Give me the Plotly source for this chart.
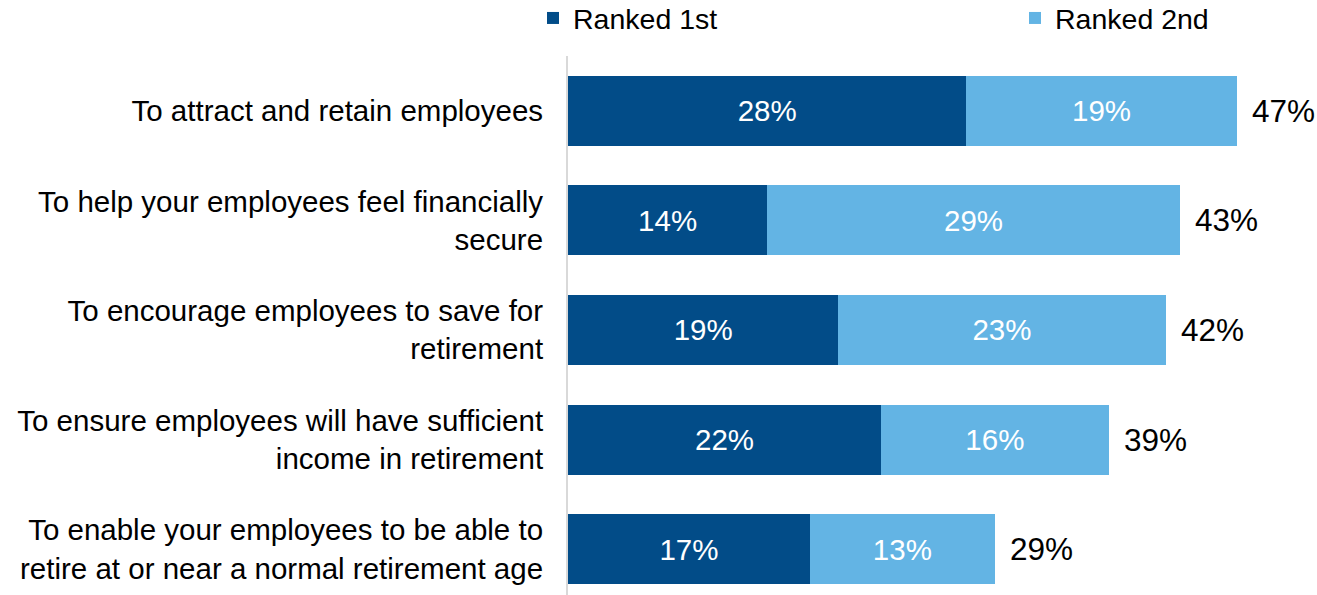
import plotly.graph_objects as go

# Survey reasons, top to bottom
categories = [
    "To attract and retain employees",
    "To help your employees feel financially<br>secure",
    "To encourage employees to save for<br>retirement",
    "To ensure employees will have sufficient<br>income in retirement",
    "To enable your employees to be able to<br>retire at or near a normal retirement age",
]
ranked_1st = [28, 14, 19, 22, 17]
ranked_2nd = [19, 29, 23, 16, 13]
total_labels = ["47%", "43%", "42%", "39%", "29%"]

DARK = "#024C88"
LIGHT = "#63B4E4"
FONT = "Liberation Sans, Arial, sans-serif"
FS = 29.5
FS_TOTAL = 31.5
FS_LEGEND = 28.5

fig = go.Figure()
fig.add_trace(go.Bar(
    y=categories, x=ranked_1st, orientation="h", name="Ranked 1st",
    marker=dict(color=DARK, line=dict(width=0)), legend="legend",
    text=[f"{v}%" for v in ranked_1st], textposition="inside",
    insidetextanchor="middle", textfont=dict(color="white", size=FS, family=FONT),
))
fig.add_trace(go.Bar(
    y=categories, x=ranked_2nd, orientation="h", name="Ranked 2nd",
    marker=dict(color=LIGHT, line=dict(width=0)), legend="legend2",
    text=[f"{v}%" for v in ranked_2nd], textposition="inside",
    insidetextanchor="middle", textfont=dict(color="white", size=FS, family=FONT),
))

# Overall share label at the end of each stacked bar
for cat, a, b, lab in zip(categories, ranked_1st, ranked_2nd, total_labels):
    fig.add_annotation(
        x=a + b, y=cat, text=lab, showarrow=False, xanchor="left",
        xshift=13, font=dict(size=FS_TOTAL, color="black", family=FONT),
    )

legend_common = dict(
    orientation="h", xanchor="left", yref="paper", y=1.117, yanchor="top",
    font=dict(size=FS_LEGEND, family=FONT, color="black"),
    bgcolor="rgba(0,0,0,0)",
)

fig.update_layout(
    width=1317, height=595,
    margin=dict(l=568, r=0, t=56, b=0, autoexpand=False),
    barmode="stack", bargap=0.36,
    plot_bgcolor="white", paper_bgcolor="white",
    font=dict(family=FONT, size=FS, color="black"),
    showlegend=True,
    legend=dict(xref="container", x=533 / 1317, **legend_common),
    legend2=dict(xref="container", x=1015 / 1317, **legend_common),
    uniformtext=dict(mode=False),
)
fig.update_xaxes(range=[0, 52.64], visible=False, fixedrange=True)
fig.update_yaxes(
    categoryorder="array", categoryarray=categories,
    range=[4.418, -0.5], showline=True, linecolor="#D9D9D9", linewidth=2,
    showgrid=False, zeroline=False, ticks="", ticklabelstandoff=17,
    tickfont=dict(size=FS, family=FONT, color="black"),
)

fig.write_html("out.html")
